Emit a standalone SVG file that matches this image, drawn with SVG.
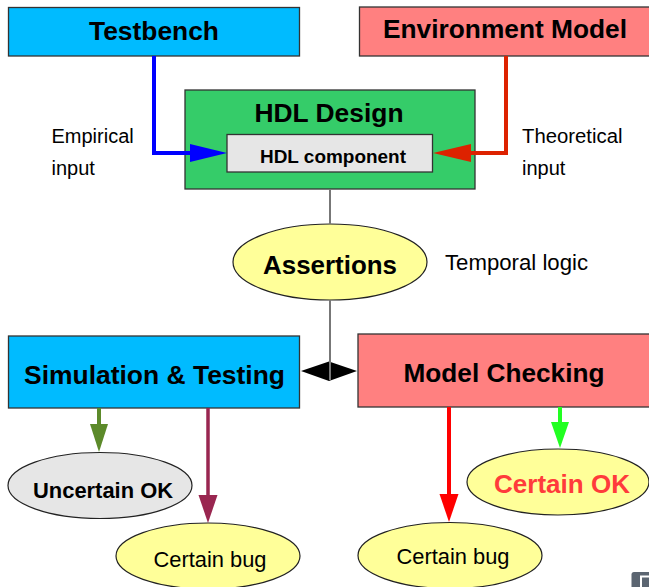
<svg xmlns="http://www.w3.org/2000/svg" width="649" height="587" viewBox="0 0 649 587">
  <style>
    text { font-family: "Liberation Sans", Arial, Helvetica, sans-serif; fill: #000; }
    .title { font-size: 26px; font-weight: bold; text-anchor: middle; }
    .label { font-size: 20px; }
    .res { font-size: 22px; text-anchor: middle; }
    .box { stroke: #333; stroke-width: 1.3; }
    .blue { fill: #00bbff; }
    .pink { fill: #ff8080; }
    .oval { stroke: #222; stroke-width: 1.2; }
    .yellow { fill: #ffff99; }
    .wire { fill: none; stroke-width: 4; stroke-linejoin: miter; }
    .stem { fill: none; stroke: #777; stroke-width: 2; }
  </style>

  <!-- sources -->
  <g id="testbench">
    <rect class="box blue" x="8.5" y="7.5" width="291" height="48.5"/>
    <text class="title" x="154" y="40" textLength="130" lengthAdjust="spacingAndGlyphs">Testbench</text>
  </g>
  <g id="environment-model">
    <rect class="box pink" x="359.5" y="7" width="295" height="49"/>
    <text class="title" x="505" y="38" textLength="244" lengthAdjust="spacingAndGlyphs">Environment Model</text>
  </g>

  <!-- design under verification -->
  <g id="hdl-design">
    <rect class="box" fill="#35cc69" x="185" y="90" width="290" height="99"/>
    <text class="title" x="329" y="122" textLength="149" lengthAdjust="spacingAndGlyphs">HDL Design</text>
  </g>
  <g id="hdl-component">
    <rect class="box" fill="#e6e6e6" x="227" y="134.5" width="205.5" height="37.5"/>
    <text x="333" y="163" font-size="18.5" font-weight="bold" text-anchor="middle" textLength="146" lengthAdjust="spacingAndGlyphs">HDL component</text>
  </g>

  <!-- side labels -->
  <g id="empirical-label">
    <text class="label" x="51.5" y="143">Empirical</text>
    <text class="label" x="51.5" y="175">input</text>
  </g>
  <g id="theoretical-label">
    <text class="label" x="522" y="143" textLength="100.5" lengthAdjust="spacingAndGlyphs">Theoretical</text>
    <text class="label" x="522" y="175">input</text>
  </g>

  <g id="assertions">
    <ellipse class="oval yellow" cx="330" cy="262" rx="97" ry="38"/>
    <text class="title" x="330" y="273.5" font-size="27.5" textLength="134" lengthAdjust="spacingAndGlyphs">Assertions</text>
  </g>
  <g id="temporal-logic">
    <text x="445" y="270" font-size="21.5" textLength="143" lengthAdjust="spacingAndGlyphs">Temporal logic</text>
  </g>

  <!-- verification methods -->
  <g id="simulation-testing">
    <rect class="box blue" x="8.5" y="336" width="291" height="72"/>
    <text class="title" x="154.5" y="383.5" textLength="261" lengthAdjust="spacingAndGlyphs">Simulation &amp; Testing</text>
  </g>
  <g id="model-checking">
    <rect class="box pink" x="358" y="334" width="296" height="73"/>
    <text class="title" x="504" y="382" textLength="201" lengthAdjust="spacingAndGlyphs">Model Checking</text>
  </g>

  <!-- outcomes -->
  <g id="uncertain-ok">
    <ellipse class="oval" fill="#e6e6e6" cx="100" cy="485.5" rx="92" ry="33"/>
    <text class="res" x="103" y="497.5" font-weight="bold" textLength="140" lengthAdjust="spacingAndGlyphs">Uncertain OK</text>
  </g>
  <g id="certain-bug-sim">
    <ellipse class="oval yellow" cx="208" cy="556" rx="92" ry="33"/>
    <text class="res" x="210" y="566.5" textLength="113" lengthAdjust="spacingAndGlyphs">Certain bug</text>
  </g>
  <g id="certain-bug-mc">
    <ellipse class="oval yellow" cx="450" cy="555.5" rx="92" ry="33"/>
    <text class="res" x="453" y="564" textLength="113" lengthAdjust="spacingAndGlyphs">Certain bug</text>
  </g>
  <g id="certain-ok">
    <ellipse class="oval yellow" cx="558" cy="482" rx="91" ry="33"/>
    <text x="562" y="492.5" font-size="26" font-weight="bold" text-anchor="middle" textLength="136" lengthAdjust="spacingAndGlyphs" style="fill:#ff3b3b">Certain OK</text>
  </g>

  <!-- connectors -->
  <g id="connectors">
    <!-- testbench feeds the component from the left -->
    <polyline class="wire" stroke="#0000ff" points="154,56 154,153 192,153"/>
    <polygon fill="#0000ff" points="190,144 227,153 190,162"/>
    <!-- environment model feeds the component from the right -->
    <polyline class="wire" stroke="#dd2200" points="506,56 506,153 469,153"/>
    <polygon fill="#dd2200" points="471,144 433,153 471,162"/>

    <!-- design to assertions to the two methods -->
    <line class="stem" x1="330" y1="189" x2="330" y2="224"/>
    <polygon fill="#000" points="301,371 329,361.5 357,371 329,381"/>
    <line class="stem" x1="330" y1="300" x2="330" y2="380"/>

    <!-- simulation outcomes -->
    <line stroke="#5c8a2a" stroke-width="4" x1="99" y1="408" x2="99" y2="426"/>
    <polygon fill="#5c8a2a" points="90,424 108,424 99,452"/>
    <line stroke="#992650" stroke-width="3.5" x1="208" y1="408" x2="208" y2="497"/>
    <polygon fill="#992650" points="198.5,495 217.5,495 208,523"/>

    <!-- model checking outcomes -->
    <line stroke="#ff0000" stroke-width="4" x1="449" y1="407" x2="449" y2="496"/>
    <polygon fill="#ff0000" points="439.5,494 458.5,494 449,522"/>
    <line stroke="#22ff22" stroke-width="4" x1="560" y1="407" x2="560" y2="424"/>
    <polygon fill="#22ff22" points="551,422 569,422 560,448"/>
  </g>

  <!-- corner badge, partly outside the view -->
  <g id="corner-badge">
    <rect x="631.5" y="572" width="30" height="30" rx="2.5" fill="#5b6571"/>
    <path d="M641,587 V576.5 H652" fill="none" stroke="#fff" stroke-width="2"/>
  </g>
</svg>
